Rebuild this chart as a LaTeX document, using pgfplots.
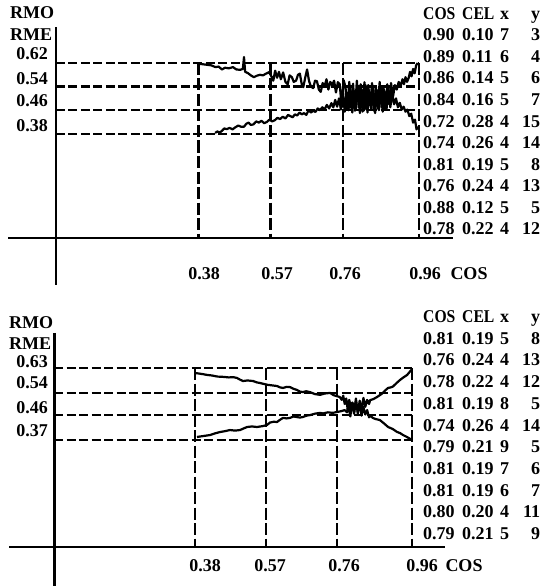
\documentclass[border=0pt]{standalone}
\usepackage{fontspec}
\setmainfont{Liberation Serif}
\usepackage{graphicx}
\usepackage{pgfplots}
\pgfplotsset{compat=1.18}
\newcommand{\trow}[4]{\makebox[39pt][l]{#1}\makebox[38pt][l]{#2}\makebox[12pt][l]{#3}\makebox[28pt][r]{#4}}
\newcommand{\hd}[1]{\scalebox{0.87}[1]{#1}}
\tikzset{hgrid/.style={line width=2.3pt, dash pattern=on 9pt off 3.5pt},
         vgrid/.style={line width=2.3pt, dash pattern=on 12pt off 3.5pt},
         axl/.style={line width=2.8pt},
         crv/.style={line width=2.2pt, line join=round}}
\begin{document}
\begin{tikzpicture}[font=\bfseries\fontsize{18}{22}\selectfont]
\path[use as bounding box] (0,0) rectangle (542pt,-586pt);
% ---------------- top panel ----------------
\begin{axis}[at={(0pt,0pt)}, anchor=north west, scale only axis,
  width=542pt, height=290pt,
  xmin=-0.142105, xmax=1.284211, ymin=-0.149492, ymax=0.833559,
  hide axis, clip=false]
\addplot[axl] coordinates {(-0.121,0.027) (1.05,0.027)};
\addplot[axl] coordinates {(0.005,0.742) (0.005,-0.1325)};
\addplot[hgrid] coordinates {(0.005,0.62) (0.96,0.62)};
\addplot[hgrid] coordinates {(0.005,0.54) (0.96,0.54)};
\addplot[hgrid] coordinates {(0.005,0.46) (0.96,0.46)};
\addplot[hgrid] coordinates {(0.005,0.38) (0.96,0.38)};
\addplot[vgrid] coordinates {(0.38,0.62) (0.38,0.027)};
\addplot[vgrid] coordinates {(0.57,0.62) (0.57,0.027)};
\addplot[vgrid] coordinates {(0.76,0.62) (0.76,0.027)};
\addplot[vgrid] coordinates {(0.96,0.62) (0.96,0.027)};
% upper curve
\addplot[crv] coordinates {
(0.379,0.617)(0.390,0.616)(0.402,0.614)(0.414,0.612)(0.425,0.606)(0.433,0.608)
(0.442,0.598)(0.450,0.604)(0.460,0.602)(0.471,0.606)(0.480,0.598)(0.490,0.597)
(0.497,0.600)(0.500,0.640)(0.503,0.590)(0.510,0.586)(0.518,0.578)(0.526,0.572)
(0.534,0.577)(0.542,0.580)(0.550,0.578)(0.558,0.584)(0.566,0.589)(0.572,0.575)
(0.577,0.560)(0.582,0.594)(0.587,0.570)(0.592,0.590)(0.597,0.565)(0.603,0.588)
(0.609,0.556)(0.615,0.548)(0.620,0.578)(0.626,0.572)(0.631,0.556)(0.637,0.560)
(0.642,0.580)(0.647,0.584)(0.652,0.548)(0.656,0.538)(0.661,0.570)(0.666,0.598)
(0.671,0.560)(0.676,0.540)(0.682,0.535)(0.687,0.560)(0.692,0.558)(0.697,0.530)
(0.702,0.522)(0.707,0.552)(0.712,0.540)(0.717,0.565)(0.722,0.530)(0.727,0.556)
(0.732,0.545)(0.737,0.560)(0.742,0.520)(0.747,0.555)(0.752,0.548)(0.757,0.470)
(0.762,0.562)(0.767,0.540)(0.772,0.462)(0.777,0.556)(0.782,0.468)(0.787,0.550)
(0.792,0.458)(0.797,0.560)(0.802,0.470)(0.807,0.548)(0.812,0.455)(0.817,0.555)
(0.822,0.462)(0.827,0.545)(0.832,0.475)(0.837,0.552)(0.842,0.458)(0.847,0.540)
(0.852,0.466)(0.857,0.556)(0.862,0.470)(0.867,0.540)(0.872,0.462)(0.877,0.548)
(0.882,0.480)(0.887,0.552)(0.892,0.505)(0.897,0.545)(0.902,0.530)(0.907,0.556)
(0.912,0.540)(0.917,0.565)(0.921,0.548)(0.925,0.572)(0.929,0.556)(0.933,0.568)
(0.937,0.590)(0.941,0.575)(0.945,0.600)(0.949,0.585)(0.953,0.612)(0.957,0.620)};
% lower curve
\addplot[crv] coordinates {
(0.424,0.383)(0.430,0.388)(0.436,0.384)(0.442,0.390)(0.448,0.398)(0.455,0.396)
(0.462,0.400)(0.470,0.395)(0.477,0.402)(0.485,0.408)(0.492,0.404)(0.500,0.404)
(0.506,0.414)(0.512,0.418)(0.518,0.410)(0.525,0.412)(0.532,0.422)(0.539,0.418)
(0.546,0.424)(0.553,0.416)(0.560,0.420)(0.567,0.428)(0.574,0.422)(0.581,0.426)
(0.588,0.434)(0.595,0.430)(0.602,0.438)(0.609,0.432)(0.616,0.444)(0.622,0.440)
(0.628,0.436)(0.634,0.446)(0.640,0.442)(0.646,0.452)(0.652,0.446)(0.658,0.450)
(0.664,0.444)(0.670,0.460)(0.676,0.452)(0.682,0.458)(0.688,0.454)(0.694,0.466)
(0.700,0.460)(0.706,0.470)(0.712,0.462)(0.718,0.478)(0.724,0.466)(0.730,0.484)
(0.735,0.470)(0.740,0.495)(0.745,0.472)(0.750,0.500)(0.755,0.462)(0.760,0.530)
(0.765,0.455)(0.770,0.520)(0.775,0.460)(0.780,0.535)(0.785,0.452)(0.790,0.525)
(0.795,0.466)(0.800,0.540)(0.805,0.450)(0.810,0.530)(0.815,0.458)(0.820,0.545)
(0.825,0.452)(0.830,0.522)(0.835,0.462)(0.840,0.538)(0.845,0.450)(0.850,0.528)
(0.855,0.460)(0.860,0.540)(0.865,0.455)(0.870,0.525)(0.875,0.462)(0.880,0.535)
(0.885,0.470)(0.890,0.515)(0.895,0.480)(0.900,0.500)(0.905,0.470)(0.910,0.485)
(0.915,0.462)(0.920,0.472)(0.925,0.455)(0.930,0.462)(0.935,0.440)(0.940,0.448)
(0.945,0.418)(0.950,0.428)(0.954,0.395)(0.957,0.405)};
\end{axis}
% ---------------- bottom panel ----------------
\begin{axis}[at={(0pt,-290pt)}, anchor=north west, scale only axis,
  width=542pt, height=296pt,
  xmin=-0.141711, xmax=1.307487, ymin=-0.157004, ymax=0.911588,
  hide axis, clip=false]
\addplot[axl] coordinates {(-0.1176,-0.0162) (1.0481,-0.0162)};
\addplot[axl] coordinates {(0.003,0.7564) (0.003,-0.157)};
\addplot[hgrid] coordinates {(0.003,0.63) (0.96,0.63)};
\addplot[hgrid] coordinates {(0.003,0.54) (0.96,0.54)};
\addplot[hgrid] coordinates {(0.003,0.46) (0.96,0.46)};
\addplot[hgrid] coordinates {(0.003,0.37) (0.96,0.37)};
\addplot[vgrid] coordinates {(0.38,0.63) (0.38,-0.0162)};
\addplot[vgrid] coordinates {(0.57,0.63) (0.57,-0.0162)};
\addplot[vgrid] coordinates {(0.76,0.63) (0.76,-0.0162)};
\addplot[vgrid] coordinates {(0.96,0.63) (0.96,-0.0162)};
% descending curve
\addplot[crv] coordinates {
(0.380,0.612)(0.390,0.610)(0.400,0.608)(0.412,0.605)(0.425,0.603)(0.440,0.599)
(0.455,0.598)(0.470,0.596)(0.482,0.597)(0.492,0.594)(0.500,0.588)(0.508,0.583)
(0.520,0.585)(0.535,0.583)(0.545,0.578)(0.553,0.576)(0.565,0.572)(0.575,0.569)
(0.587,0.567)(0.599,0.565)(0.607,0.560)(0.615,0.558)(0.625,0.562)(0.634,0.561)
(0.643,0.555)(0.652,0.551)(0.660,0.545)(0.668,0.543)(0.677,0.546)(0.687,0.543)
(0.700,0.536)(0.714,0.533)(0.727,0.538)(0.741,0.540)(0.750,0.532)(0.760,0.528)
(0.767,0.525)(0.772,0.515)(0.776,0.530)(0.780,0.500)(0.784,0.520)(0.788,0.480)
(0.792,0.515)(0.797,0.485)(0.801,0.505)(0.805,0.465)(0.810,0.510)(0.815,0.470)
(0.820,0.500)(0.825,0.458)(0.830,0.490)(0.835,0.462)(0.840,0.478)(0.845,0.452)
(0.848,0.458)(0.855,0.450)(0.862,0.446)(0.874,0.442)(0.885,0.430)(0.896,0.417)
(0.908,0.410)(0.920,0.399)(0.928,0.395)(0.936,0.388)(0.945,0.382)(0.955,0.374)
(0.960,0.370)};
% rising curve
\addplot[crv] coordinates {
(0.385,0.381)(0.395,0.383)(0.405,0.385)(0.420,0.388)(0.433,0.394)(0.447,0.399)
(0.460,0.402)(0.473,0.406)(0.487,0.404)(0.500,0.406)(0.510,0.412)(0.519,0.417)
(0.532,0.419)(0.545,0.417)(0.560,0.420)(0.572,0.424)(0.580,0.433)(0.590,0.436)
(0.599,0.435)(0.607,0.443)(0.615,0.450)(0.625,0.448)(0.634,0.450)(0.643,0.455)
(0.652,0.453)(0.660,0.451)(0.668,0.453)(0.678,0.458)(0.687,0.460)(0.700,0.465)
(0.714,0.468)(0.722,0.466)(0.735,0.470)(0.748,0.468)(0.759,0.471)(0.770,0.474)
(0.780,0.478)(0.786,0.470)(0.790,0.495)(0.795,0.455)(0.800,0.505)(0.805,0.470)
(0.810,0.520)(0.815,0.465)(0.820,0.512)(0.825,0.480)(0.830,0.522)(0.835,0.490)
(0.840,0.515)(0.845,0.500)(0.848,0.514)(0.857,0.518)(0.866,0.525)(0.874,0.532)
(0.882,0.540)(0.889,0.550)(0.896,0.558)(0.903,0.560)(0.909,0.563)(0.918,0.575)
(0.928,0.587)(0.937,0.596)(0.947,0.605)(0.953,0.615)(0.960,0.626)};
\end{axis}
% ---------------- text: top ----------------
\begin{scope}[every node/.style={inner sep=0pt}]
\node[anchor=base west] at (10pt,-19pt) {RMO};
\node[anchor=base west] at (10pt,-41pt) {RME};
\node[anchor=base east] at (48pt,-59.5pt) {0.62};
\node[anchor=base east] at (48pt,-84.5pt) {0.54};
\node[anchor=base east] at (48pt,-106.5pt) {0.46};
\node[anchor=base east] at (48pt,-131.5pt) {0.38};
\node[anchor=base] at (204pt,-279.5pt) {0.38};
\node[anchor=base] at (277pt,-279.5pt) {0.57};
\node[anchor=base] at (345pt,-279.5pt) {0.76};
\node[anchor=base] at (425pt,-279.5pt) {0.96};
\node[anchor=base] at (469pt,-279.5pt) {COS};
\node[anchor=base west] at (423pt,-19.5pt) {\trow{\hd{COS}}{\hd{CEL}}{x}{y}};
\node[anchor=base west] at (423pt,-41pt) {\trow{0.90}{0.10}{7}{3}};
\node[anchor=base west] at (423pt,-62.5pt) {\trow{0.89}{0.11}{6}{4}};
\node[anchor=base west] at (423pt,-84pt) {\trow{0.86}{0.14}{5}{6}};
\node[anchor=base west] at (423pt,-105.5pt) {\trow{0.84}{0.16}{5}{7}};
\node[anchor=base west] at (423pt,-127pt) {\trow{0.72}{0.28}{4}{15}};
\node[anchor=base west] at (423pt,-148.5pt) {\trow{0.74}{0.26}{4}{14}};
\node[anchor=base west] at (423pt,-170pt) {\trow{0.81}{0.19}{5}{8}};
\node[anchor=base west] at (423pt,-191.5pt) {\trow{0.76}{0.24}{4}{13}};
\node[anchor=base west] at (423pt,-213pt) {\trow{0.88}{0.12}{5}{5}};
\node[anchor=base west] at (423pt,-234.5pt) {\trow{0.78}{0.22}{4}{12}};
% ---------------- text: bottom ----------------
\node[anchor=base west] at (9pt,-328pt) {RMO};
\node[anchor=base west] at (9pt,-349.5pt) {RME};
\node[anchor=base east] at (48pt,-367pt) {0.63};
\node[anchor=base east] at (48pt,-388.5pt) {0.54};
\node[anchor=base east] at (48pt,-413.5pt) {0.46};
\node[anchor=base east] at (48pt,-436.5pt) {0.37};
\node[anchor=base] at (205pt,-571.5pt) {0.38};
\node[anchor=base] at (270pt,-571.5pt) {0.57};
\node[anchor=base] at (344pt,-571.5pt) {0.76};
\node[anchor=base] at (422pt,-571.5pt) {0.96};
\node[anchor=base] at (464pt,-571.5pt) {COS};
\node[anchor=base west] at (423pt,-322.5pt) {\trow{\hd{COS}}{\hd{CEL}}{x}{y}};
\node[anchor=base west] at (423pt,-344.2pt) {\trow{0.81}{0.19}{5}{8}};
\node[anchor=base west] at (423pt,-365.9pt) {\trow{0.76}{0.24}{4}{13}};
\node[anchor=base west] at (423pt,-387.6pt) {\trow{0.78}{0.22}{4}{12}};
\node[anchor=base west] at (423pt,-409.3pt) {\trow{0.81}{0.19}{8}{5}};
\node[anchor=base west] at (423pt,-431pt) {\trow{0.74}{0.26}{4}{14}};
\node[anchor=base west] at (423pt,-452.7pt) {\trow{0.79}{0.21}{9}{5}};
\node[anchor=base west] at (423pt,-474.4pt) {\trow{0.81}{0.19}{7}{6}};
\node[anchor=base west] at (423pt,-496.1pt) {\trow{0.81}{0.19}{6}{7}};
\node[anchor=base west] at (423pt,-517.8pt) {\trow{0.80}{0.20}{4}{11}};
\node[anchor=base west] at (423pt,-539.5pt) {\trow{0.79}{0.21}{5}{9}};
\end{scope}
\end{tikzpicture}
\end{document}
